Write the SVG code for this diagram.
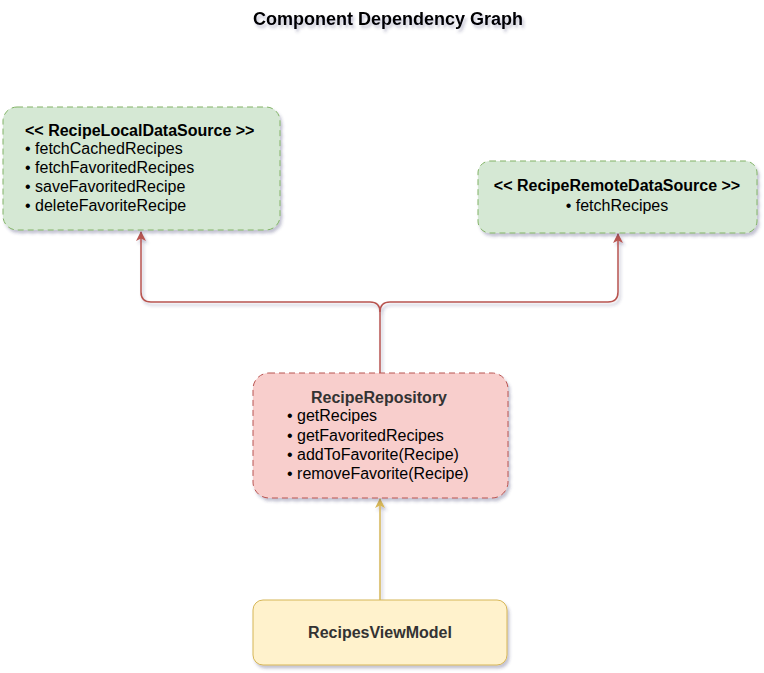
<svg xmlns="http://www.w3.org/2000/svg" width="764" height="673" viewBox="0 0 764 673">
<defs>
<filter id="sh" x="-10%" y="-10%" width="130%" height="140%">
<feDropShadow dx="2" dy="3" stdDeviation="1.5" flood-color="#3a3a6a" flood-opacity="0.3"/>
</filter>
<marker id="ar" viewBox="0 0 10 10" refX="9" refY="5" markerWidth="10" markerHeight="10" markerUnits="userSpaceOnUse" orient="auto">
<path d="M0,0 L10,5 L0,10 L2.5,5 Z" fill="#b85450"/>
</marker>
<marker id="ay" viewBox="0 0 10 10" refX="9" refY="5" markerWidth="10" markerHeight="10" markerUnits="userSpaceOnUse" orient="auto">
<path d="M0,0 L10,5 L0,10 L2.5,5 Z" fill="#d6b656"/>
</marker>
</defs>
<style>
text{font-family:"Liberation Sans",Arial,Helvetica,sans-serif;font-size:16px;fill:#000}
.b{font-weight:bold}
.t{font-size:18px}
.g{fill:#d5e8d4;stroke:#82b366;stroke-dasharray:6 4;stroke-width:1}
.r{fill:#f8cecc;stroke:#b85450;stroke-dasharray:6 4;stroke-width:1}
.y{fill:#fff2cc;stroke:#d6b656;stroke-width:1}
.dk{fill:#333333}
.c{fill:none;stroke-width:1.5}
</style>
<text class="b t" x="388" y="25" text-anchor="middle" filter="url(#sh)">Component Dependency Graph</text>
<g id="edges" filter="url(#sh)">
<path class="c" stroke="#b85450" d="M380,373 L380,312 Q380,302 370,302 L151,302 Q141,302 141,292 L141,232" marker-end="url(#ar)"/>
<path class="c" stroke="#b85450" d="M380,312 Q380,302 390,302 L608,302 Q618,302 618,292 L618,234" marker-end="url(#ar)"/>
<path class="c" stroke="#d6b656" d="M380,600 L380,499" marker-end="url(#ay)"/>
</g>
<g id="local">
<rect class="g" x="3" y="107" width="277" height="123" rx="14" filter="url(#sh)"/>
<text class="b" x="25" y="136">&lt;&lt; RecipeLocalDataSource &gt;&gt;</text>
<text x="25" y="154">• fetchCachedRecipes</text>
<text x="25" y="173">• fetchFavoritedRecipes</text>
<text x="25" y="192">• saveFavoritedRecipe</text>
<text x="25" y="211">• deleteFavoriteRecipe</text>
</g>
<g id="remote">
<rect class="g" x="478" y="161" width="279" height="72" rx="12" filter="url(#sh)"/>
<text class="b" x="617" y="191" text-anchor="middle">&lt;&lt; RecipeRemoteDataSource &gt;&gt;</text>
<text x="617" y="211" text-anchor="middle">• fetchRecipes</text>
</g>
<g id="repository">
<rect class="r" x="253" y="373" width="255" height="125" rx="16" filter="url(#sh)"/>
<text class="b dk" x="379" y="403" text-anchor="middle">RecipeRepository</text>
<text x="287" y="421">• getRecipes</text>
<text x="287" y="441">• getFavoritedRecipes</text>
<text x="287" y="460">• addToFavorite(Recipe)</text>
<text x="287" y="479">• removeFavorite(Recipe)</text>
</g>
<g id="viewmodel">
<rect class="y" x="253" y="600" width="254" height="65" rx="10" filter="url(#sh)"/>
<text class="b dk" x="380" y="638" text-anchor="middle">RecipesViewModel</text>
</g>
</svg>
